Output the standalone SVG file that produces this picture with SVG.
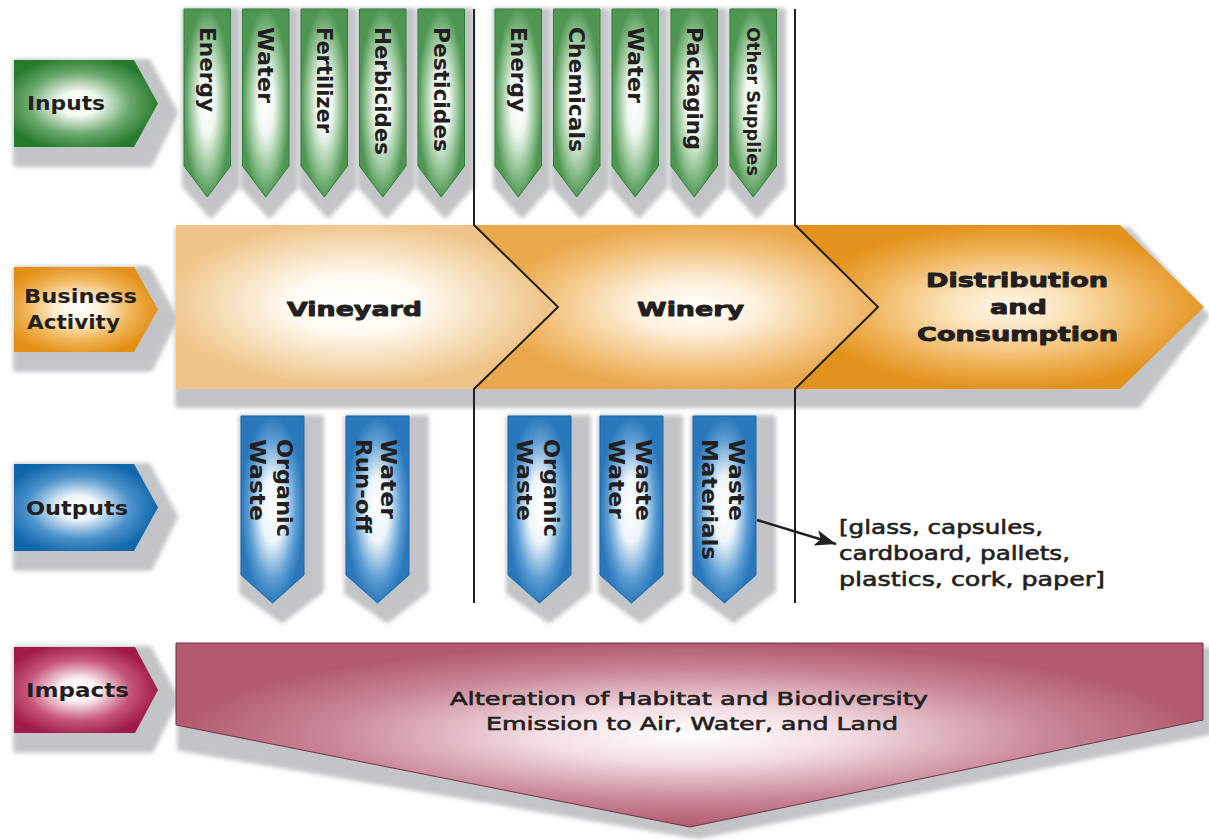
<svg xmlns="http://www.w3.org/2000/svg" width="1209" height="840" viewBox="0 0 1209 840">
<defs>
  <filter id="soft" x="-20%" y="-20%" width="140%" height="140%"><feGaussianBlur stdDeviation="2"/></filter>
  <radialGradient id="gLblGreen" cx=".45" cy=".5" r=".55"><stop offset="0" stop-color="#fff"/><stop offset=".25" stop-color="#f4faf4"/><stop offset=".65" stop-color="#6aa86c"/><stop offset="1" stop-color="#257a2b"/></radialGradient>
  <radialGradient id="gLblOrange" cx=".45" cy=".5" r=".55"><stop offset="0" stop-color="#fff"/><stop offset=".25" stop-color="#fff4e2"/><stop offset=".65" stop-color="#f0b65a"/><stop offset="1" stop-color="#e38f17"/></radialGradient>
  <radialGradient id="gLblBlue" cx=".45" cy=".5" r=".55"><stop offset="0" stop-color="#fff"/><stop offset=".25" stop-color="#eef5fb"/><stop offset=".65" stop-color="#4c92cb"/><stop offset="1" stop-color="#0f67ab"/></radialGradient>
  <radialGradient id="gLblRed" cx=".45" cy=".5" r=".55"><stop offset="0" stop-color="#fff"/><stop offset=".25" stop-color="#fbeef2"/><stop offset=".65" stop-color="#c7567a"/><stop offset="1" stop-color="#a01b48"/></radialGradient>
  <radialGradient id="gTabGreen" cx=".5" cy=".5" r=".5"><stop offset="0" stop-color="#fff"/><stop offset=".35" stop-color="#f0f7f0"/><stop offset=".75" stop-color="#8cbf8e"/><stop offset="1" stop-color="#4f9653"/></radialGradient>
  <radialGradient id="gTabBlue" cx=".5" cy=".5" r=".5"><stop offset="0" stop-color="#fff"/><stop offset=".35" stop-color="#eef5fb"/><stop offset=".75" stop-color="#5c9dd3"/><stop offset="1" stop-color="#2a78bb"/></radialGradient>
  <radialGradient id="gVine" cx=".47" cy=".48" r=".5"><stop offset="0" stop-color="#fff"/><stop offset=".35" stop-color="#fffaf2"/><stop offset=".75" stop-color="#f5d9b0"/><stop offset="1" stop-color="#efc48a"/></radialGradient>
  <radialGradient id="gWine" cx=".55" cy=".5" r=".5"><stop offset="0" stop-color="#fff"/><stop offset=".3" stop-color="#fdf1de"/><stop offset=".75" stop-color="#f2c07a"/><stop offset="1" stop-color="#eaa84c"/></radialGradient>
  <radialGradient id="gDist" cx=".52" cy=".5" r=".5"><stop offset="0" stop-color="#fff8ec"/><stop offset=".3" stop-color="#fbe2b9"/><stop offset=".7" stop-color="#efb258"/><stop offset="1" stop-color="#e3921c"/></radialGradient>
  <radialGradient id="gImpact" cx=".5" cy=".5" r=".5"><stop offset="0" stop-color="#fff"/><stop offset=".3" stop-color="#f3dde3"/><stop offset=".7" stop-color="#c98797"/><stop offset="1" stop-color="#b35a70"/></radialGradient>
  <marker id="arrow" markerUnits="userSpaceOnUse" markerWidth="24" markerHeight="18" refX="21" refY="8" orient="auto"><path d="M0,0 L21,8 L0,16 L5,8 Z" fill="#231f20"/></marker>
</defs>
<style>
  .shadow { fill:#c2c4c7; stroke:#c2c4c7; stroke-width:6; stroke-linejoin:round; filter:url(#soft); }
  .lbl { font-family:"DejaVu Sans","Liberation Sans",sans-serif; font-weight:bold; font-size:19px; fill:#231f20; }
  .tab { font-family:"DejaVu Sans","Liberation Sans",sans-serif; font-weight:bold; font-size:21px; fill:#231f20; }
  .otab { font-family:"DejaVu Sans","Liberation Sans",sans-serif; font-weight:bold; font-size:22px; fill:#231f20; }
  .heavy { font-family:"DejaVu Sans","Liberation Sans",sans-serif; font-weight:bold; font-size:19px; fill:#231f20; stroke:#231f20; stroke-width:0.9; stroke-linejoin:round; }
  .note { font-family:"DejaVu Sans","Liberation Sans",sans-serif; font-size:20px; fill:#231f20; stroke:#231f20; stroke-width:0.6; }
  .imp { font-family:"DejaVu Sans","Liberation Sans",sans-serif; font-size:18px; fill:#231f20; stroke:#231f20; stroke-width:0.6; }
  .gtab { fill:url(#gTabGreen); stroke:#2f7f3a; stroke-width:1; }
  .btab { fill:url(#gTabBlue); stroke:#1c69a8; stroke-width:1; }
  .divider { fill:none; stroke:#231f20; stroke-width:2; }
</style>

<!-- Row labels -->
<g id="label-inputs">
  <path class="shadow" d="M16,62 H148 L175,113 L150,164 H16 Z"/>
  <path d="M14,60 H134 L158,103.5 L134,147 H14 Z" fill="url(#gLblGreen)"/>
  <text class="lbl" x="27" y="110" textLength="78" lengthAdjust="spacingAndGlyphs">Inputs</text>
</g>
<g id="label-business">
  <path class="shadow" d="M16,269 H148 L175,319 L150,369 H16 Z"/>
  <path d="M14,267 H134 L158,309.5 L134,352 H14 Z" fill="url(#gLblOrange)"/>
  <text class="lbl" x="24" y="303" textLength="113" lengthAdjust="spacingAndGlyphs">Business</text>
  <text class="lbl" x="27" y="329" textLength="93" lengthAdjust="spacingAndGlyphs">Activity</text>
</g>
<g id="label-outputs">
  <path class="shadow" d="M16,466 H148 L175,517 L150,568 H16 Z"/>
  <path d="M14,464 H134 L158,507.5 L134,551 H14 Z" fill="url(#gLblBlue)"/>
  <text class="lbl" x="26" y="515" textLength="102" lengthAdjust="spacingAndGlyphs">Outputs</text>
</g>
<g id="label-impacts">
  <path class="shadow" d="M16,649 H149 L176,699 L151,750 H16 Z"/>
  <path d="M14,647 H135 L158,690 L135,733 H14 Z" fill="url(#gLblRed)"/>
  <text class="lbl" x="26" y="697" textLength="103" lengthAdjust="spacingAndGlyphs">Impacts</text>
</g>

<!-- Input tabs: vineyard -->
<g id="in-v-energy">
  <path class="shadow" d="M185,11 H237 V186 L211,215 L185,186 Z"/>
  <path class="gtab" d="M184,9 H230.5 V166 L207.25,197 L184,166 Z"/>
  <text class="tab" transform="translate(199.6,27) rotate(90)" textLength="85" lengthAdjust="spacingAndGlyphs">Energy</text>
</g>
<g id="in-v-water">
  <path class="shadow" d="M243.5,11 H295.5 V186 L269.5,215 L243.5,186 Z"/>
  <path class="gtab" d="M242.5,9 H289 V166 L265.75,197 L242.5,166 Z"/>
  <text class="tab" transform="translate(258.1,27) rotate(90)" textLength="76" lengthAdjust="spacingAndGlyphs">Water</text>
</g>
<g id="in-v-fertilizer">
  <path class="shadow" d="M302,11 H354 V186 L328,215 L302,186 Z"/>
  <path class="gtab" d="M301,9 H347.5 V166 L324.25,197 L301,166 Z"/>
  <text class="tab" transform="translate(316.6,27) rotate(90)" textLength="106" lengthAdjust="spacingAndGlyphs">Fertilizer</text>
</g>
<g id="in-v-herbicides">
  <path class="shadow" d="M360.5,11 H412.5 V186 L386.5,215 L360.5,186 Z"/>
  <path class="gtab" d="M359.5,9 H406 V166 L382.75,197 L359.5,166 Z"/>
  <text class="tab" transform="translate(375.1,27) rotate(90)" textLength="128" lengthAdjust="spacingAndGlyphs">Herbicides</text>
</g>
<g id="in-v-pesticides">
  <path class="shadow" d="M419,11 H471 V186 L445,215 L419,186 Z"/>
  <path class="gtab" d="M418,9 H464.5 V166 L441.25,197 L418,166 Z"/>
  <text class="tab" transform="translate(433.6,27) rotate(90)" textLength="125" lengthAdjust="spacingAndGlyphs">Pesticides</text>
</g>

<!-- Input tabs: winery -->
<g id="in-w-energy">
  <path class="shadow" d="M496,11 H548 V186 L522,215 L496,186 Z"/>
  <path class="gtab" d="M495,9 H541.5 V166 L518.25,197 L495,166 Z"/>
  <text class="tab" transform="translate(510.6,27) rotate(90)" textLength="85" lengthAdjust="spacingAndGlyphs">Energy</text>
</g>
<g id="in-w-chemicals">
  <path class="shadow" d="M554.5,11 H606.5 V186 L580.5,215 L554.5,186 Z"/>
  <path class="gtab" d="M553.5,9 H600 V166 L576.75,197 L553.5,166 Z"/>
  <text class="tab" transform="translate(569.1,27) rotate(90)" textLength="125" lengthAdjust="spacingAndGlyphs">Chemicals</text>
</g>
<g id="in-w-water">
  <path class="shadow" d="M613,11 H665 V186 L639,215 L613,186 Z"/>
  <path class="gtab" d="M612,9 H658.5 V166 L635.25,197 L612,166 Z"/>
  <text class="tab" transform="translate(627.6,27) rotate(90)" textLength="76" lengthAdjust="spacingAndGlyphs">Water</text>
</g>
<g id="in-w-packaging">
  <path class="shadow" d="M672,11 H724 V186 L698,215 L672,186 Z"/>
  <path class="gtab" d="M671,9 H717.5 V166 L694.25,197 L671,166 Z"/>
  <text class="tab" transform="translate(686.6,27) rotate(90)" textLength="123" lengthAdjust="spacingAndGlyphs">Packaging</text>
</g>
<g id="in-w-other">
  <path class="shadow" d="M731,11 H783 V186 L757,215 L731,186 Z"/>
  <path class="gtab" d="M730,9 H776.5 V166 L753.25,197 L730,166 Z"/>
  <text class="tab" style="font-size:18px" transform="translate(746.8,27) rotate(90)" textLength="149" lengthAdjust="spacingAndGlyphs">Other Supplies</text>
</g>

<!-- Business activity band -->
<g id="band-shadow">
  <path class="shadow" d="M178,230 H1128 L1206,316 L1138,405 H178 Z"/>
</g>
<g id="vineyard">
  <path d="M176,225 H474 L558,307 L474,389 H176 Z" fill="url(#gVine)"/>
  <text class="heavy" x="287" y="316" textLength="135" lengthAdjust="spacingAndGlyphs">Vineyard</text>
</g>
<g id="winery">
  <path d="M474,225 H795 L878,307 L795,389 H474 L558,307 Z" fill="url(#gWine)"/>
  <text class="heavy" x="637" y="316" textLength="107" lengthAdjust="spacingAndGlyphs">Winery</text>
</g>
<g id="distribution">
  <path d="M795,225 H1120 L1204,307 L1120,389 H795 L878,307 Z" fill="url(#gDist)"/>
  <text class="heavy" x="926" y="287" textLength="182" lengthAdjust="spacingAndGlyphs">Distribution</text>
  <text class="heavy" x="990" y="314" textLength="57" lengthAdjust="spacingAndGlyphs">and</text>
  <text class="heavy" x="917" y="341" textLength="201" lengthAdjust="spacingAndGlyphs">Consumption</text>
</g>

<!-- Output tabs -->
<g id="out-v-organic">
  <path class="shadow" d="M242,418 H321 V590 L282,620 L242,592 Z"/>
  <path class="btab" d="M241,416 H304 V575 L272.5,603 L241,575 Z"/>
  <text class="otab" transform="translate(277,439) rotate(90)" textLength="98" lengthAdjust="spacingAndGlyphs">Organic</text>
  <text class="otab" transform="translate(250,439) rotate(90)" textLength="82" lengthAdjust="spacingAndGlyphs">Waste</text>
</g>
<g id="out-v-runoff">
  <path class="shadow" d="M347,418 H426 V590 L387,620 L347,592 Z"/>
  <path class="btab" d="M346,416 H409 V575 L377.5,603 L346,575 Z"/>
  <text class="otab" transform="translate(381,439) rotate(90)" textLength="80" lengthAdjust="spacingAndGlyphs">Water</text>
  <text class="otab" transform="translate(355.5,439) rotate(90)" textLength="94" lengthAdjust="spacingAndGlyphs">Run-off</text>
</g>
<g id="out-w-organic">
  <path class="shadow" d="M509,418 H588 V590 L549,620 L509,592 Z"/>
  <path class="btab" d="M508,416 H571 V575 L539.5,603 L508,575 Z"/>
  <text class="otab" transform="translate(544,439) rotate(90)" textLength="98" lengthAdjust="spacingAndGlyphs">Organic</text>
  <text class="otab" transform="translate(517,439) rotate(90)" textLength="82" lengthAdjust="spacingAndGlyphs">Waste</text>
</g>
<g id="out-w-wastewater">
  <path class="shadow" d="M601,418 H680 V590 L641,620 L601,592 Z"/>
  <path class="btab" d="M600,416 H663 V575 L631.5,603 L600,575 Z"/>
  <text class="otab" transform="translate(636,439) rotate(90)" textLength="82" lengthAdjust="spacingAndGlyphs">Waste</text>
  <text class="otab" transform="translate(609,439) rotate(90)" textLength="80" lengthAdjust="spacingAndGlyphs">Water</text>
</g>
<g id="out-w-materials">
  <path class="shadow" d="M694,418 H773 V590 L734,620 L694,592 Z"/>
  <path class="btab" d="M693,416 H756 V575 L724.5,603 L693,575 Z"/>
  <text class="otab" transform="translate(729,439) rotate(90)" textLength="82" lengthAdjust="spacingAndGlyphs">Waste</text>
  <text class="otab" transform="translate(702,439) rotate(90)" textLength="121" lengthAdjust="spacingAndGlyphs">Materials</text>
</g>

<g id="materials-note">
  <text class="note" x="839" y="534" textLength="204" lengthAdjust="spacingAndGlyphs">[glass, capsules,</text>
  <text class="note" x="839" y="560" textLength="231" lengthAdjust="spacingAndGlyphs">cardboard, pallets,</text>
  <text class="note" x="839" y="586" textLength="266" lengthAdjust="spacingAndGlyphs">plastics, cork, paper]</text>
</g>

<!-- Impacts -->
<g id="impacts">
  <path class="shadow" d="M180,650 H1209 V732 L698,836 L180,748 Z"/>
  <path d="M176,643 H1203 V720 L690,827 L176,725 Z" fill="url(#gImpact)" stroke="#6b3a48" stroke-width="1"/>
  <text class="imp" x="450" y="705" textLength="478" lengthAdjust="spacingAndGlyphs">Alteration of Habitat and Biodiversity</text>
  <text class="imp" x="486" y="730" textLength="412" lengthAdjust="spacingAndGlyphs">Emission to Air, Water, and Land</text>
</g>

<!-- Stage dividers and connectors -->
<g id="connectors">
  <path class="divider" d="M474,9 V225 L558,307 L474,389 V603"/>
  <path class="divider" d="M795,9 V225 L878,307 L795,389 V603"/>
  <line x1="757" y1="520" x2="836" y2="544" stroke="#231f20" stroke-width="2.5" marker-end="url(#arrow)"/>
</g>
</svg>
